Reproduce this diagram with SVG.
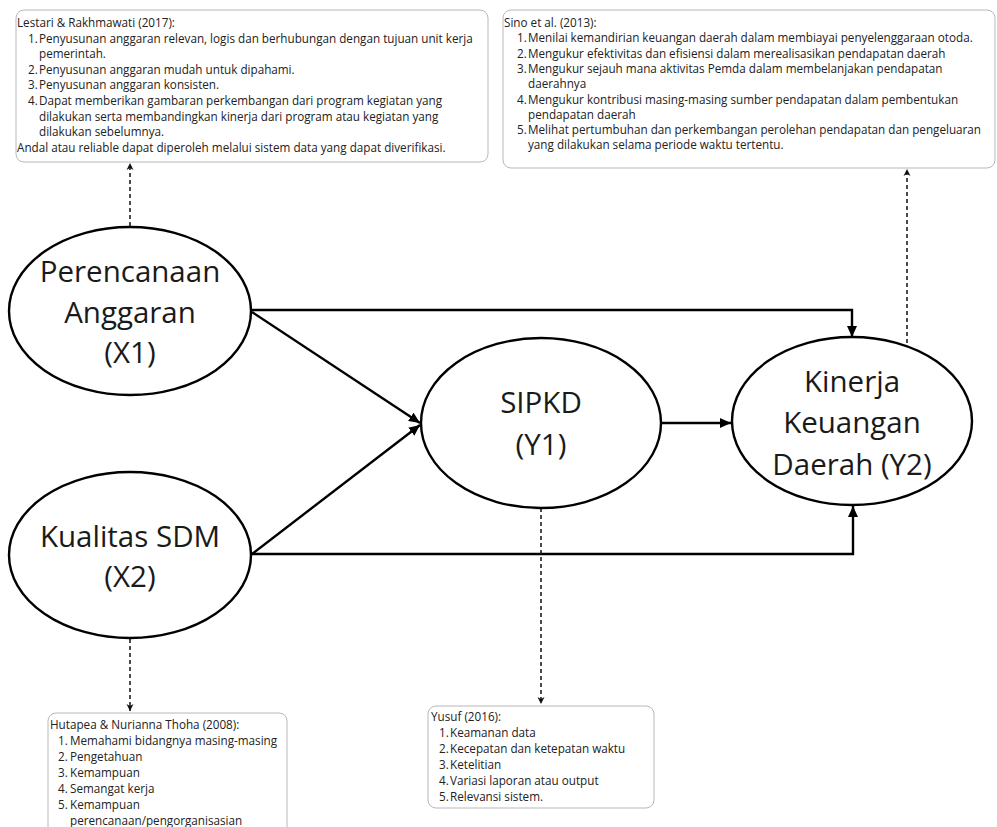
<svg xmlns="http://www.w3.org/2000/svg" width="997" height="827" viewBox="0 0 997 827">
<style>
.bg{fill:#ffffff}
.node ellipse{fill:#ffffff;stroke:#000;stroke-width:2.4}
.big{font-family:"Open Sans","Noto Sans","Liberation Sans",sans-serif;font-size:29.5px;fill:#1a1a1a;text-anchor:middle}
.box rect{fill:#ffffff;stroke:#b8b8b8;stroke-width:1}
.sm{font-family:"Open Sans","Noto Sans","Liberation Sans",sans-serif;font-size:11.7px;fill:#222}
.solid{fill:none;stroke:#000;stroke-width:2.4}
.dash{fill:none;stroke:#111;stroke-width:1.5;stroke-dasharray:4 3}
</style>
<defs>
<marker id="ah" markerUnits="userSpaceOnUse" markerWidth="12" markerHeight="12" refX="11" refY="6" orient="auto">
<path d="M0,1 L11,6 L0,11 z" fill="#000"/>
</marker>
<marker id="dh" markerUnits="userSpaceOnUse" markerWidth="8" markerHeight="8" refX="7" refY="4" orient="auto">
<path d="M0,0.5 L7,4 L0,7.5 L2,4 z" fill="#111"/>
</marker>
</defs>
<rect class="bg" x="0" y="0" width="997" height="827"/>

<g id="connectors">
<path class="solid" d="M252,310 H852 V337" marker-end="url(#ah)"/>
<path class="solid" d="M252,312 L420,423" marker-end="url(#ah)"/>
<path class="solid" d="M252,554 L420,425" marker-end="url(#ah)"/>
<path class="solid" d="M662,423 H731" marker-end="url(#ah)"/>
<path class="solid" d="M252,554 H853 V506" marker-end="url(#ah)"/>
<path class="dash" d="M130,226 V163" marker-end="url(#dh)"/>
<path class="dash" d="M907,350 V169" marker-end="url(#dh)"/>
<path class="dash" d="M130,639 V711" marker-end="url(#dh)"/>
<path class="dash" d="M541,508 V704" marker-end="url(#dh)"/>
</g>

<g id="x1" class="node">
<ellipse cx="130" cy="311" rx="121" ry="84"/>
<text class="big" x="130" y="282">Perencanaan</text>
<text class="big" x="130" y="323">Anggaran</text>
<text class="big" x="130" y="363">(X1)</text>
</g>

<g id="x2" class="node">
<ellipse cx="130" cy="555" rx="121" ry="83"/>
<text class="big" x="130" y="547">Kualitas SDM</text>
<text class="big" x="130" y="587">(X2)</text>
</g>

<g id="y1" class="node">
<ellipse cx="541" cy="423" rx="120" ry="85"/>
<text class="big" x="541" y="413">SIPKD</text>
<text class="big" x="541" y="455">(Y1)</text>
</g>

<g id="y2" class="node">
<ellipse cx="852" cy="421" rx="120" ry="84"/>
<text class="big" x="852" y="392">Kinerja</text>
<text class="big" x="852" y="433">Keuangan</text>
<text class="big" x="852" y="475">Daerah (Y2)</text>
</g>

<g id="box-lestari" class="box">
<rect x="16" y="10" width="472" height="152" rx="8"/>
<text class="sm" x="17" y="27">Lestari &amp; Rakhmawati (2017):</text>
<text class="sm" x="28" y="42.6">1.</text><text class="sm" x="39" y="42.6">Penyusunan anggaran relevan, logis dan berhubungan dengan tujuan unit kerja</text>
<text class="sm" x="39" y="58.2">pemerintah.</text>
<text class="sm" x="28" y="73.8">2.</text><text class="sm" x="39" y="73.8">Penyusunan anggaran mudah untuk dipahami.</text>
<text class="sm" x="28" y="89.4">3.</text><text class="sm" x="39" y="89.4">Penyusunan anggaran konsisten.</text>
<text class="sm" x="28" y="105">4.</text><text class="sm" x="39" y="105">Dapat memberikan gambaran perkembangan dari program kegiatan yang</text>
<text class="sm" x="39" y="120.6">dilakukan serta membandingkan kinerja dari program atau kegiatan yang</text>
<text class="sm" x="39" y="136.2">dilakukan sebelumnya.</text>
<text class="sm" x="17" y="151.8">Andal atau reliable dapat diperoleh melalui sistem data yang dapat diverifikasi.</text>
</g>

<g id="box-sino" class="box">
<rect x="503" y="10" width="492" height="158" rx="8"/>
<text class="sm" x="504" y="27">Sino et al. (2013):</text>
<text class="sm" x="517" y="42.3">1.</text><text class="sm" x="528" y="42.3">Menilai kemandirian keuangan daerah dalam membiayai penyelenggaraan otoda.</text>
<text class="sm" x="517" y="57.6">2.</text><text class="sm" x="528" y="57.6">Mengukur efektivitas dan efisiensi dalam merealisasikan pendapatan daerah</text>
<text class="sm" x="517" y="72.9">3.</text><text class="sm" x="528" y="72.9">Mengukur sejauh mana aktivitas Pemda dalam membelanjakan pendapatan</text>
<text class="sm" x="528" y="88.2">daerahnya</text>
<text class="sm" x="517" y="103.5">4.</text><text class="sm" x="528" y="103.5">Mengukur kontribusi masing-masing sumber pendapatan dalam pembentukan</text>
<text class="sm" x="528" y="118.8">pendapatan daerah</text>
<text class="sm" x="517" y="134.1">5.</text><text class="sm" x="528" y="134.1">Melihat pertumbuhan dan perkembangan perolehan pendapatan dan pengeluaran</text>
<text class="sm" x="528" y="149.4">yang dilakukan selama periode waktu tertentu.</text>
</g>

<g id="box-hutapea" class="box">
<rect x="48" y="713" width="239" height="130" rx="8"/>
<text class="sm" x="50" y="729">Hutapea &amp; Nurianna Thoha (2008):</text>
<text class="sm" x="58" y="745">1.</text><text class="sm" x="70" y="745">Memahami bidangnya masing-masing</text>
<text class="sm" x="58" y="761">2.</text><text class="sm" x="70" y="761">Pengetahuan</text>
<text class="sm" x="58" y="777">3.</text><text class="sm" x="70" y="777">Kemampuan</text>
<text class="sm" x="58" y="793">4.</text><text class="sm" x="70" y="793">Semangat kerja</text>
<text class="sm" x="58" y="809">5.</text><text class="sm" x="70" y="809">Kemampuan</text>
<text class="sm" x="70" y="825">perencanaan/pengorganisasian</text>
</g>

<g id="box-yusuf" class="box">
<rect x="428" y="706" width="226" height="102" rx="8"/>
<text class="sm" x="431" y="721">Yusuf (2016):</text>
<text class="sm" x="439" y="737">1.</text><text class="sm" x="450" y="737">Keamanan data</text>
<text class="sm" x="439" y="753">2.</text><text class="sm" x="450" y="753">Kecepatan dan ketepatan waktu</text>
<text class="sm" x="439" y="769">3.</text><text class="sm" x="450" y="769">Ketelitian</text>
<text class="sm" x="439" y="785">4.</text><text class="sm" x="450" y="785">Variasi laporan atau output</text>
<text class="sm" x="439" y="801">5.</text><text class="sm" x="450" y="801">Relevansi sistem.</text>
</g>
</svg>
